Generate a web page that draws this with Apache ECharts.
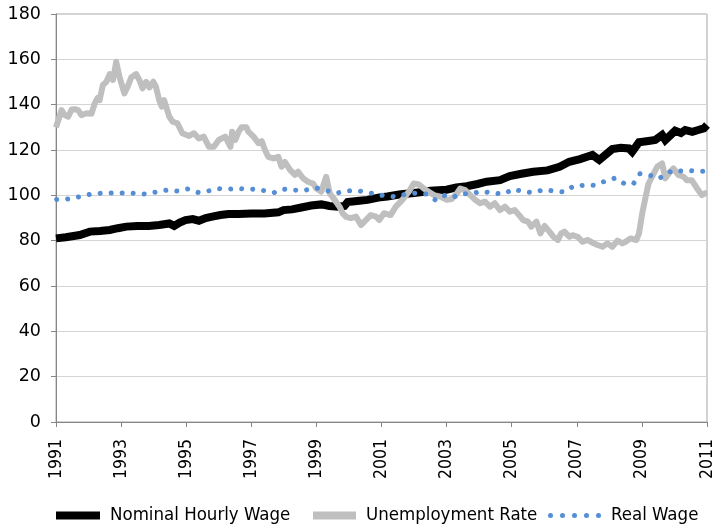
<!DOCTYPE html>
<html>
<head>
<meta charset="utf-8">
<script src="https://cdn.jsdelivr.net/npm/echarts@6/dist/echarts.min.js"></script>
<style>
html,body{margin:0;padding:0;background:#fff;}
#chart{width:716px;height:527px;}
</style>
</head>
<body>
<div id="chart"></div>
<script>
// Years since January 1991 (x) and index values (y)
const baseYear = 1991;
const tickLabels = ['1991','1993','1995','1997','1999','2001','2003','2005','2007','2009','2011'];

const nominalT = [0.00,0.30,0.73,1.04,1.35,1.65,1.90,2.16,2.50,2.85,3.17,3.48,3.63,3.80,3.98,4.20,4.39,4.60,4.80,5.05,5.30,5.61,6.00,6.40,6.83,6.99,7.25,7.50,7.84,8.15,8.40,8.66,8.86,8.96,9.25,9.57,9.90,10.18,10.59,11.00,11.25,11.50,11.75,12.00,12.30,12.62,12.95,13.23,13.64,13.94,14.30,14.66,15.10,15.47,15.77,16.10,16.48,16.69,17.09,17.35,17.60,17.70,17.91,18.20,18.41,18.62,18.72,19.02,19.20,19.33,19.55,19.73,19.90,20.00];
const nominalV = [81.0,81.5,82.5,84.0,84.3,84.7,85.5,86.2,86.5,86.5,86.9,87.6,86.5,88.0,89.1,89.5,88.8,90.0,90.6,91.3,91.8,91.8,92.0,92.0,92.5,93.5,93.8,94.5,95.5,96.0,95.3,95.0,95.3,97.0,97.5,98.0,99.0,99.5,100.5,101.0,101.5,102.0,102.3,102.5,103.5,104.0,105.0,106.0,106.7,108.5,109.5,110.4,111.0,112.6,114.8,116.0,117.8,115.6,120.4,121.0,120.7,119.2,123.4,124.0,124.4,126.6,124.4,128.5,127.5,128.8,128.0,128.8,129.5,131.0];

const unempT = [0.00,0.09,0.17,0.27,0.375,0.48,0.58,0.68,0.78,0.94,1.09,1.19,1.28,1.34,1.44,1.55,1.65,1.75,1.85,1.95,2.10,2.20,2.31,2.46,2.56,2.66,2.77,2.87,2.99,3.07,3.17,3.25,3.32,3.48,3.58,3.73,3.88,4.09,4.24,4.39,4.54,4.70,4.85,5.00,5.20,5.36,5.41,5.51,5.61,5.70,5.85,5.91,6.07,6.22,6.32,6.42,6.52,6.68,6.83,6.93,7.03,7.19,7.34,7.44,7.59,7.74,7.90,8.00,8.15,8.30,8.41,8.56,8.71,8.81,8.91,9.06,9.22,9.37,9.52,9.67,9.83,9.93,10.08,10.28,10.44,10.64,10.84,10.99,11.15,11.30,11.45,11.61,11.81,12.01,12.16,12.32,12.42,12.57,12.72,12.88,13.03,13.18,13.33,13.48,13.64,13.79,13.94,14.09,14.25,14.35,14.50,14.60,14.76,14.88,15.01,15.16,15.28,15.42,15.52,15.62,15.77,15.87,16.03,16.18,16.33,16.48,16.64,16.79,16.94,17.09,17.25,17.40,17.50,17.65,17.83,17.91,18.01,18.11,18.20,18.31,18.47,18.62,18.72,18.87,18.97,19.12,19.28,19.38,19.53,19.63,19.73,19.84,19.94,20.01];
const unempV = [130.0,134.0,137.6,135.4,134.7,137.9,138.0,137.6,135.4,136.2,136.0,140.6,143.0,142.0,148.7,150.1,153.5,150.9,158.9,152.3,145.0,147.9,152.0,153.5,150.9,147.2,150.1,147.6,150.1,147.9,142.0,139.1,142.0,134.7,132.5,131.8,127.4,126.2,127.4,125.1,125.9,121.4,121.4,124.4,125.9,121.4,128.1,124.4,128.1,130.0,130.0,128.1,125.9,123.0,123.9,120.0,117.0,116.3,117.0,112.6,114.8,111.2,109.0,110.4,107.5,106.0,105.2,103.0,101.6,108.2,100.9,98.0,95.0,92.0,90.5,89.9,90.6,86.9,89.1,91.3,90.6,89.1,92.1,91.3,95.0,98.0,101.6,105.2,104.8,103.0,101.6,100.1,99.4,98.0,98.4,100.9,103.0,102.3,100.2,98.0,96.5,97.2,95.0,96.5,93.5,95.0,92.8,93.5,90.9,89.1,88.4,86.2,88.4,83.2,86.5,84.0,81.7,80.3,83.2,84.0,81.7,82.4,81.7,79.5,80.3,79.1,78.1,77.3,78.8,77.3,80.0,78.8,79.5,81.0,80.3,83.2,92.0,99.0,105.0,108.2,112.6,114.1,107.5,110.4,111.9,109.0,108.2,106.7,106.7,104.5,102.3,100.1,100.9,101.0];

const realT = [0.02,0.375,0.70,1.03,1.38,1.73,2.07,2.41,2.75,3.08,3.41,3.72,4.05,4.38,4.67,4.99,5.30,5.64,6.00,6.34,6.70,6.98,7.31,7.64,7.98,8.28,8.63,8.94,9.27,9.59,9.93,10.18,10.44,10.72,11.05,11.37,11.66,11.91,12.16,12.45,12.75,13.08,13.44,13.76,14.05,14.35,14.65,14.99,15.30,15.61,15.91,16.20,16.53,16.86,17.17,17.48,17.74,17.94,18.26,18.52,18.76,18.99,19.21,19.46,19.73,20.01];
const realV = [98.2,98.4,99.3,100.4,100.9,101.0,101.0,100.9,100.6,101.5,102.3,101.9,102.8,101.2,101.9,102.9,102.8,102.9,102.8,102.2,101.2,102.8,102.3,102.2,103.3,102.2,101.0,102.0,102.0,101.3,100.1,99.8,99.4,100.4,101.0,100.6,97.9,100.0,98.9,100.7,100.7,101.8,100.9,100.6,102.8,101.6,101.2,102.5,101.9,101.5,104.2,104.4,104.4,106.2,107.6,105.0,105.1,109.5,108.8,107.3,109.7,111.2,110.7,110.9,110.6,110.6];

const names = ['Nominal Hourly Wage','Unemployment Rate','Real Wage'];
const colors = ['#000000','#bfbfbf','#558ed5'];

function pairs(t, v){ return t.map((x,i)=>[x, v[i]]); }

const chart = echarts.init(document.getElementById('chart'), null, {renderer:'canvas'});
const legendText = {fontFamily:'DejaVu Sans Condensed', fontSize:18.5, color:'#000', padding:[0,0,0,5]};
const dotsPath = 'path://M0,2.5a2.5,2.5 0 1,0 5,0a2.5,2.5 0 1,0 -5,0M12,2.5a2.5,2.5 0 1,0 5,0a2.5,2.5 0 1,0 -5,0M24,2.5a2.5,2.5 0 1,0 5,0a2.5,2.5 0 1,0 -5,0M36,2.5a2.5,2.5 0 1,0 5,0a2.5,2.5 0 1,0 -5,0M48,2.5a2.5,2.5 0 1,0 5,0a2.5,2.5 0 1,0 -5,0';

chart.setOption({
  animation:false,
  backgroundColor:'#fff',
  grid:{left:56,right:3,top:14,bottom:105,show:true,borderColor:'#a6a6a6',borderWidth:1},
  legend:[
    {data:[{name:names[0],icon:'rect',itemStyle:{color:colors[0]}}],left:56,top:506,padding:0,itemWidth:44,itemHeight:8,textStyle:legendText,selectedMode:false},
    {data:[{name:names[1],icon:'rect',itemStyle:{color:colors[1]}}],left:313,top:506,padding:0,itemWidth:43,itemHeight:8,textStyle:legendText,selectedMode:false},
    {data:[{name:names[2],icon:dotsPath,itemStyle:{color:colors[2],borderWidth:0}}],left:548,top:506,padding:0,itemWidth:53,itemHeight:5,textStyle:legendText,selectedMode:false}
  ],
  xAxis:{
    type:'value',min:0,max:20,interval:2,
    axisLine:{show:true,lineStyle:{color:'#868686',width:1}},
    axisTick:{show:true,length:5,lineStyle:{color:'#868686'}},
    splitLine:{show:false},
    axisLabel:{rotate:90,margin:17,fontFamily:'DejaVu Sans Condensed',fontSize:17.5,color:'#000',
      formatter:function(v){ return tickLabels[Math.round(v/2)]; }}
  },
  yAxis:[{
    type:'value',min:0,max:180,interval:20,
    axisLine:{show:true,lineStyle:{color:'#868686',width:1}},
    axisTick:{show:true,length:5,lineStyle:{color:'#868686'}},
    splitLine:{show:true,lineStyle:{color:'#d4d4d4',width:1}},
    axisLabel:{margin:15,fontFamily:'DejaVu Sans',fontSize:17.5,color:'#000'}
  }],
  series:[
    {name:names[0],type:'line',data:pairs(nominalT,nominalV),showSymbol:false,symbol:'none',color:colors[0],
     lineStyle:{color:colors[0],width:8,join:'miter'}},
    {name:names[1],type:'line',data:pairs(unempT,unempV),showSymbol:false,symbol:'none',color:colors[1],
     lineStyle:{color:colors[1],width:6,join:'round'}},
    {name:names[2],type:'line',data:pairs(realT,realV),showSymbol:false,symbol:'none',color:colors[2],
     lineStyle:{color:colors[2],width:5,type:[0.01,11],cap:'round',join:'round'}}
  ]
});
</script>
</body>
</html>
